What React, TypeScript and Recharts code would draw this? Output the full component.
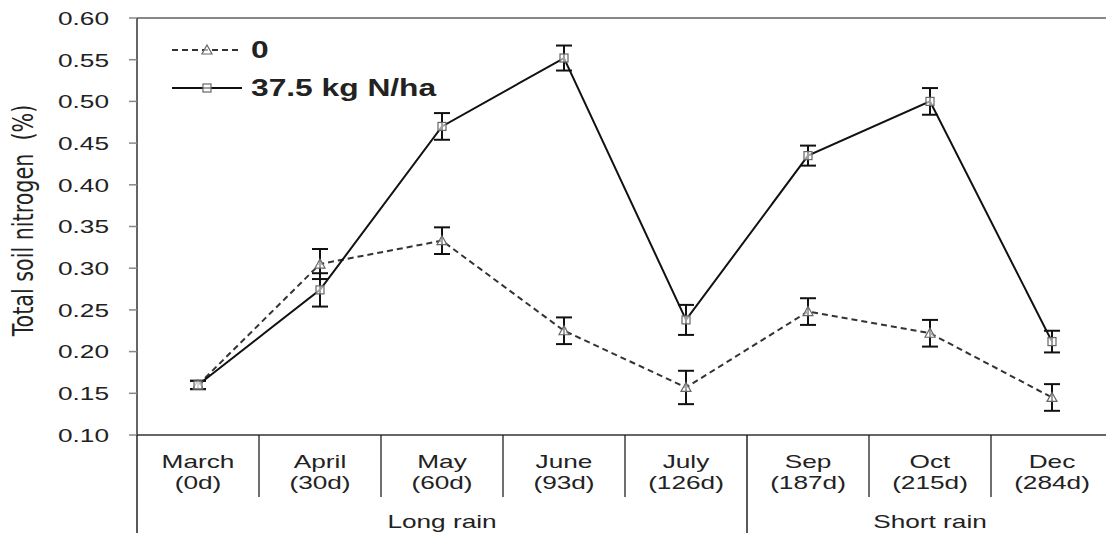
import React from 'react'
import {
  ComposedChart,
  Line,
  ErrorBar,
  XAxis,
  YAxis,
  Legend,
  ReferenceLine,
} from 'recharts'

const months = ['March', 'April', 'May', 'June', 'July', 'Sep', 'Oct', 'Dec']
const days = ['(0d)', '(30d)', '(60d)', '(93d)', '(126d)', '(187d)', '(215d)', '(284d)']
const n0 = [0.16, 0.305, 0.333, 0.225, 0.157, 0.248, 0.222, 0.145]
const n0Err = [0.005, 0.018, 0.016, 0.016, 0.02, 0.016, 0.016, 0.016]
const n375 = [0.16, 0.274, 0.47, 0.552, 0.238, 0.435, 0.5, 0.212]
const n375Err = [0.005, 0.02, 0.016, 0.015, 0.018, 0.012, 0.016, 0.013]
const yTicks = [0.1, 0.15, 0.2, 0.25, 0.3, 0.35, 0.4, 0.45, 0.5, 0.55, 0.6]
const seasons = [
  { label: 'Long rain', start: 0, span: 5 },
  { label: 'Short rain', start: 5, span: 3 },
]

const data = months.map((m, i) => ({
  month: m,
  days: days[i],
  n0: n0[i],
  n0Err: n0Err[i],
  n375: n375[i],
  n375Err: n375Err[i],
}))

const FONT = '"Liberation Sans", Arial, sans-serif'
const STRETCH = 1.38 // the original figure is stretched sideways
const TEXT = '#222'

const YTick = ({ x, y, payload }: any) => (
  <text
    transform={`translate(${x},${y}) scale(${STRETCH},1)`}
    textAnchor="end"
    dy="0.36em"
    fontFamily={FONT}
    fontSize={19}
    fill={TEXT}
  >
    {Number(payload.value).toFixed(2)}
  </text>
)

const XTick = ({ x, y, payload, index, width }: any) => {
  const band = (typeof width === 'number' ? width : 976) / months.length
  const left = x - band / 2
  const season = seasons.find((s) => s.start === index)
  return (
    <g>
      {index > 0 && !season && (
        <line x1={left} y1={y} x2={left} y2={y + 62} stroke="#222" strokeWidth={1.3} />
      )}
      {season && (
        <line x1={left} y1={y} x2={left} y2={y + 110} stroke="#222" strokeWidth={1.5} />
      )}
      <text
        transform={`translate(${x},${y + 33}) scale(${STRETCH},1)`}
        textAnchor="middle"
        fontFamily={FONT}
        fontSize={19}
        fill={TEXT}
      >
        {payload.value}
      </text>
      <text
        transform={`translate(${x},${y + 54}) scale(${STRETCH},1)`}
        textAnchor="middle"
        fontFamily={FONT}
        fontSize={19}
        fill={TEXT}
      >
        {days[index]}
      </text>
      {season && (
        <text
          transform={`translate(${left + (season.span * band) / 2},${y + 93}) scale(${STRETCH},1)`}
          textAnchor="middle"
          fontFamily={FONT}
          fontSize={19}
          fill={TEXT}
        >
          {season.label}
        </text>
      )}
    </g>
  )
}

const Triangle = ({ cx, cy }: any) =>
  cx == null || cy == null ? null : (
    <path
      d={`M${cx},${cy - 5} L${cx + 5},${cy + 4} L${cx - 5},${cy + 4} Z`}
      fill="#fff"
      fillOpacity={0.6}
      stroke="#666"
      strokeWidth={1.2}
    />
  )

const Square = ({ cx, cy }: any) =>
  cx == null || cy == null ? null : (
    <rect x={cx - 4} y={cy - 4} width={8} height={8} fill="#fff" fillOpacity={0.6} stroke="#666" strokeWidth={1.2} />
  )

const LegendBox = () => (
  <svg width={330} height={70}>
    <line x1={12} y1={15} x2={82} y2={15} stroke="#333" strokeWidth={2} strokeDasharray="6 4" />
    <Triangle cx={47} cy={15} />
    <text x={91} y={15} dy="0.36em" transform={`translate(${91 * (1 - STRETCH)},0) scale(${STRETCH},1)`}
      fontFamily={FONT} fontSize={23} fontWeight="bold" fill={TEXT}>0</text>
    <line x1={12} y1={53} x2={82} y2={53} stroke="#111" strokeWidth={2} />
    <Square cx={47} cy={53} />
    <text x={91} y={53} dy="0.36em" transform={`translate(${91 * (1 - STRETCH)},0) scale(${STRETCH},1)`}
      fontFamily={FONT} fontSize={23} fontWeight="bold" fill={TEXT}>37.5 kg N/ha</text>
  </svg>
)

const YLabel = ({ viewBox }: any) => {
  const cx = viewBox.x - 14
  const cy = viewBox.y + viewBox.height / 2 - 6
  return (
    <text
      transform={`translate(${cx},${cy}) scale(1.25,1) rotate(-90)`}
      textAnchor="middle"
      dy="0.36em"
      fontFamily='"Liberation Sans Narrow", "Arial Narrow", "DejaVu Sans Condensed", sans-serif'
      fontSize={23}
      fill={TEXT}
    >
      {'Total soil nitrogen\u00a0\u00a0(%)'}
    </text>
  )
}

export default function App() {
  return (
    <div
      style={{
        position: 'fixed',
        top: 8,
        left: 8,
        width: 1098,
        height: 525,
        overflow: 'hidden',
        background: '#fff',
      }}
    >
      <ComposedChart
        width={1110}
        height={525}
        data={data}
        margin={{ top: 10, right: 5, bottom: 8, left: 29 }}
      >
        <XAxis
          dataKey="month"
          scale="band"
          interval={0}
          height={90}
          tickLine={false}
          tickSize={0}
          tickMargin={0}
          axisLine={{ stroke: '#333', strokeWidth: 1.5 }}
          tick={<XTick />}
        />
        <YAxis
          width={100}
          domain={[0.1, 0.6]}
          ticks={yTicks}
          allowDataOverflow
          tickSize={8}
          tickMargin={20}
          tickLine={{ stroke: '#888', strokeWidth: 1.5 }}
          axisLine={{ stroke: '#333', strokeWidth: 1.5 }}
          tick={<YTick />}
          label={{ content: <YLabel /> }}
        />
        <ReferenceLine y={0.6} stroke="#888" strokeWidth={2} />
        <Legend
          layout="vertical"
          align="center"
          verticalAlign="middle"
          wrapperStyle={{ left: 152, top: 27, width: 330 }}
          content={<LegendBox />}
        />
        <Line
          dataKey="n0"
          name="0"
          stroke="#333"
          strokeWidth={2}
          strokeDasharray="6 4"
          dot={<Triangle />}
          activeDot={false}
          isAnimationActive={false}
        >
          <ErrorBar dataKey="n0Err" width={8} stroke="#111" strokeWidth={2} direction="y" />
        </Line>
        <Line
          dataKey="n375"
          name="37.5 kg N/ha"
          stroke="#111"
          strokeWidth={2}
          dot={<Square />}
          activeDot={false}
          isAnimationActive={false}
        >
          <ErrorBar dataKey="n375Err" width={8} stroke="#111" strokeWidth={2} direction="y" />
        </Line>
      </ComposedChart>
    </div>
  )
}
